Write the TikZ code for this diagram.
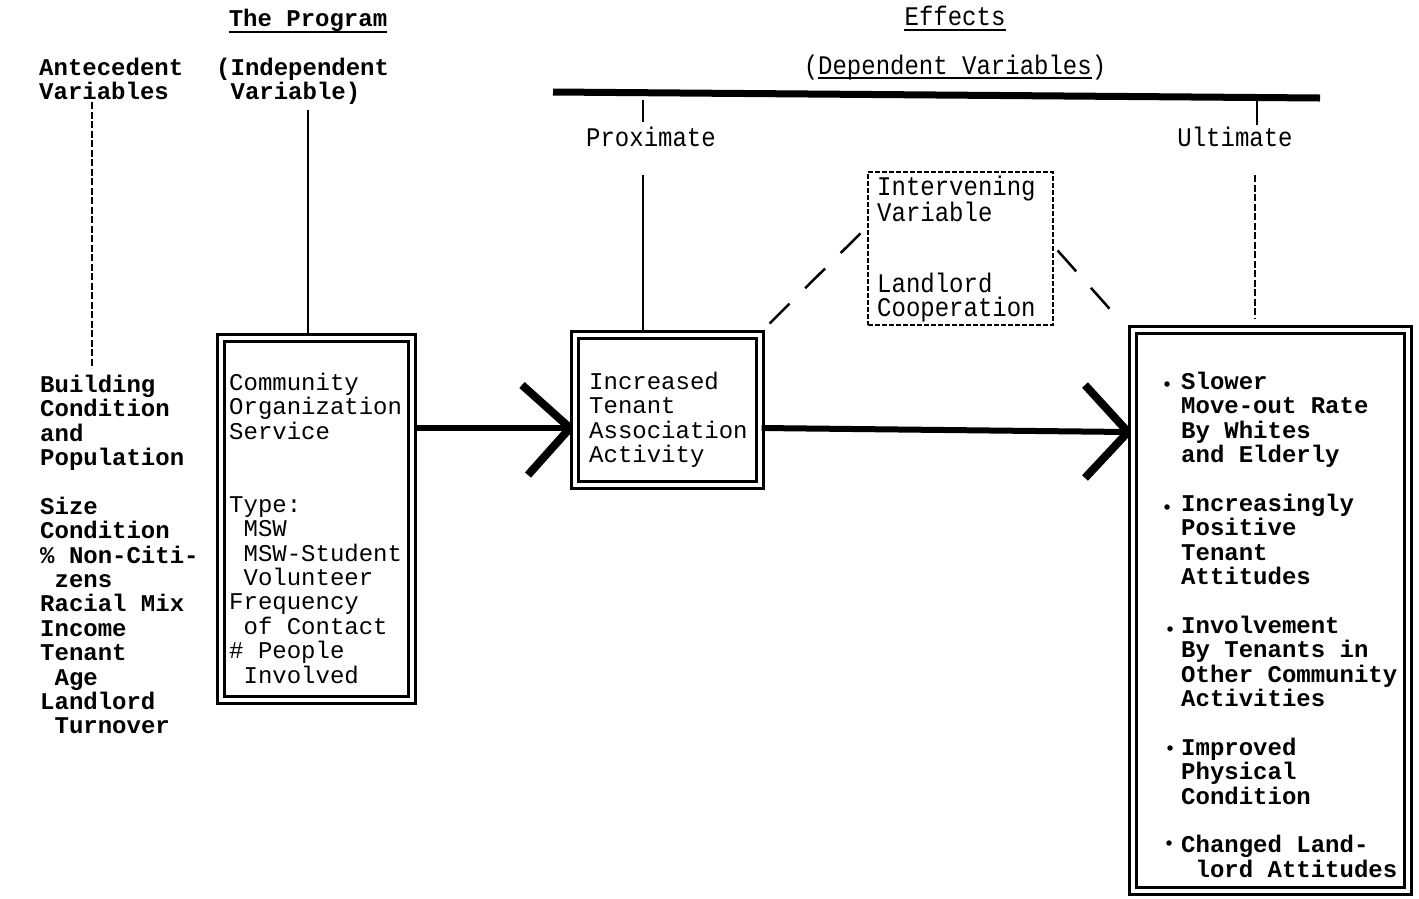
\documentclass[tikz,border=0pt]{standalone}
\usepackage{fontspec}
\setmainfont{Liberation Mono}
\usetikzlibrary{calc}
\newcommand\fsz{\fontsize{24}{24.4}\selectfont}
\newcommand\fst{\rule{0pt}{22pt}}
\newcommand\tall[1]{\scalebox{1}[1.12]{#1}}
\begin{document}
\begin{tikzpicture}[x=1pt,y=-1pt,
  txt/.style={inner sep=0pt, anchor=north west, yshift=22pt, align=left, font=\fsz},
  btxt/.style={txt, font=\bfseries\fsz},
  head/.style={inner sep=0pt, anchor=base, font=\fsz},
  bhead/.style={head, font=\bfseries\fsz},
  dbox/.style={draw, line width=3.2pt, double=white, double distance=3.8pt, inner sep=0pt},
  dashbox/.style={draw, line width=1.2pt, dash pattern=on 5pt off 2pt, inner sep=0pt},
  shaft/.style={line width=6pt},
  headbar/.style={line width=8pt},
  topbar/.style={line width=7pt},
  vline/.style={line width=1.6pt},
  dvline/.style={line width=1.5pt, dash pattern=on 7pt off 2.5pt},
  diag/.style={line width=2.5pt, dash pattern=on 28pt off 22pt},
  uline/.style={line width=2pt},
  dot/.style={circle, fill, inner sep=0pt, minimum size=5.5pt}
]
\useasboundingbox (0,0) rectangle (1419,898);

% headings
\node[bhead] (prgh) at (308,26) {The Program};
\draw[uline] ($(prgh.base west)+(0,6)$) -- ($(prgh.base east)+(0,6)$);
\node[btxt] (anteh) at (39,75) {\fst Antecedent\\Variables};
\node[btxt] (indh) at (216,75) {\fst(Independent\\\phantom{x}Variable)};
\node[head] (effh) at (955,25) {\tall{Effects}};
\draw[uline] ($(effh.base west)+(0,5)$) -- ($(effh.base east)+(0,5)$);
\node[head] (deph) at (955,74) {\tall{(Dependent Variables)}};
\draw[uline] ($(deph.base west)+(14.4,4)$) -- ($(deph.base east)+(-14.4,4)$);
\node[head] (prox) at (651,146) {\tall{Proximate}};
\node[head] (ult) at (1235,146) {\tall{Ultimate}};

% top bar
\coordinate (barL) at (553,92);
\coordinate (barR) at (1320,98);
\draw[topbar] (barL) -- (barR);
\coordinate (pt1) at (643,100);
\coordinate (pt2) at (643,122);
\draw[vline] (pt1) -- (pt2);
\coordinate (ut1) at (1257,101);
\coordinate (ut2) at (1257,125);
\draw[vline] (ut1) -- (ut2);

% boxes
\node[dbox, minimum width=191pt, minimum height=362pt] (prog) at (316.5,519) {};
\node[dbox, minimum width=185pt, minimum height=150pt] (tenant) at (667.5,410) {};
\node[dbox, minimum width=275pt, minimum height=561pt] (ultbox) at (1270.5,610.5) {};
\node[dashbox, minimum width=185pt, minimum height=153pt] (interv) at (960.5,248.5) {};

% vertical connectors
\coordinate (a1) at (92,102);
\coordinate (a2) at (92,368);
\draw[dvline] (a1) -- (a2);
\coordinate (i1) at (308,110);
\draw[vline] (i1) -- (i1 |- prog.north);
\coordinate (p1) at (643,175);
\draw[vline] (p1) -- (p1 |- tenant.north);
\coordinate (u1) at (1255,175);
\coordinate (u2) at (1255,318);
\draw[dvline] (u1) -- (u2);

% diagonals to intervening variable
\draw[diag] ($(tenant.north east)+(8,-10)$) -- ($(interv.west)+(-6,-16)$);
\draw[diag] ($(interv.east)+(4,2)$) -- ($(ultbox.north west)+(-15,-12)$);

% arrows
\coordinate (tip1) at (570,428);
\draw[shaft] (prog.east |- tip1) -- (tip1);
\draw[headbar] (tip1) -- ++(-48,-43);
\draw[headbar] (tip1) -- ++(-42,47);
\coordinate (tip2) at (1128,432);
\draw[shaft] (tenant.east |- tip1) -- (tip2);
\draw[headbar] (tip2) -- ++(-43,-47);
\draw[headbar] (tip2) -- ++(-43,46);

% texts
\node[btxt] (ante) at (40,392) {\fst Building\\Condition\\and\\Population\\[24.4pt]Size\\Condition\\\% Non-Citi-\\\phantom{x}zens\\Racial Mix\\Income\\Tenant\\\phantom{x}Age\\Landlord\\\phantom{x}Turnover};
\node[txt] (progt) at (229,390) {\fst Community\\Organization\\Service\\[48.8pt]Type:\\\phantom{x}MSW\\\phantom{x}MSW-Student\\\phantom{x}Volunteer\\Frequency\\\phantom{x}of Contact\\\# People\\\phantom{x}Involved};
\node[txt] (tent) at (589,389) {\fst Increased\\Tenant\\Association\\Activity};
\node[txt] (intt1) at (877,195) {\fst\tall{Intervening}\\\tall{Variable}};
\node[txt] (intt2) at (877,292) {\fst\tall{Landlord}\\\tall{Cooperation}};
\node[btxt] (ultt) at (1181,389) {\fst Slower\\Move-out Rate\\By Whites\\and Elderly\\[24.4pt]Increasingly\\Positive\\Tenant\\Attitudes\\[24.4pt]Involvement\\By Tenants in\\Other Community\\Activities\\[24.4pt]Improved\\Physical\\Condition\\[24.4pt]Changed Land-\\\phantom{x}lord Attitudes};
\node[dot] (b1) at (1167,384) {};
\node[dot] (b2) at (1167,507) {};
\node[dot] (b3) at (1170,629) {};
\node[dot] (b4) at (1170,748) {};
\node[dot] (b5) at (1169,843) {};
\end{tikzpicture}
\end{document}
